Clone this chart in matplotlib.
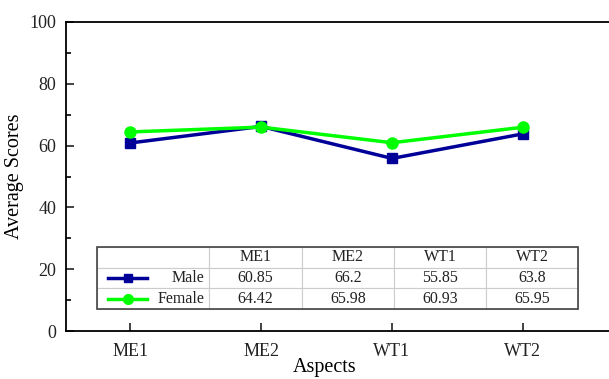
import numpy as np
import matplotlib.pyplot as plt
from matplotlib.patches import Rectangle
from matplotlib.lines import Line2D

plt.rcParams['font.family'] = ['Liberation Serif', 'DejaVu Serif']

aspects = ['ME1', 'ME2', 'WT1', 'WT2']
male = [60.85, 66.2, 55.85, 63.8]
female = [64.42, 65.98, 60.93, 65.95]
male_txt = ['60.85', '66.2', '55.85', '63.8']
female_txt = ['64.42', '65.98', '60.93', '65.95']

male_col = '#000099'
female_col = '#00ff00'

fig = plt.figure(figsize=(6.09, 3.79), dpi=100)
W, H = 609, 379
ax = fig.add_axes([66 / W, (H - 331) / H, 546 / W, 309 / H])

x = np.arange(len(aspects))
ax.plot(x, male, color=male_col, lw=2.5, marker='s', ms=7, zorder=3)
ax.plot(x, female, color=female_col, lw=2.5, marker='o', ms=8, zorder=4)

ax.set_xlim(-0.49, 3.68)
ax.set_ylim(0, 100)
ax.set_xticks(x)
ax.set_xticklabels(aspects)
ax.set_yticks([0, 20, 40, 60, 80, 100])
ax.set_yticks(np.arange(10, 100, 20), minor=True)
ax.tick_params(direction='in', length=6, width=1.2, labelsize=13, colors='#222222')
ax.tick_params(which='minor', direction='in', length=3.5, width=1.2)
ax.tick_params(axis='x', pad=9)
ax.tick_params(axis='y', pad=7)
for s in ax.spines.values():
    s.set_linewidth(1.3)
ax.set_xlabel('Aspects', fontsize=14.5)
ax.xaxis.set_label_coords((325 - 66) / 546, -0.088)
ax.set_ylabel('Average Scores', fontsize=14.5, labelpad=4)

# data table in the lower part of the plot
tx0, tw = (97 - 66) / 546, (578 - 97) / 546
ty0, th = (331 - 309) / 309, (309 - 247) / 309
cw = np.array([112, 93, 92, 92, 92], dtype=float)
cw = cw / cw.sum()

cells = [[''] + aspects,
         ['Male'] + male_txt,
         ['Female'] + female_txt]
tab = ax.table(cellText=cells, cellLoc='center', colWidths=list(cw * tw),
               bbox=[tx0, ty0, tw, th], zorder=5)
tab.auto_set_font_size(False)
for (r, c), cell in tab.get_celld().items():
    cell.set_edgecolor('#cccccc')
    cell.set_linewidth(0.8)
    cell.set_facecolor('white')
    cell.get_text().set_fontsize(11.5)
    cell.get_text().set_color('#222222')
    if c == 0:
        cell.get_text().set_ha('right')
        cell._loc = 'right'
        cell.PAD = 0.04
ax.add_patch(Rectangle((tx0, ty0), tw, th, transform=ax.transAxes, fill=False,
                       edgecolor='#444444', lw=1.2, zorder=7))

# legend samples in first column
rh = th / 3
for i, (col, mk, ms) in enumerate([(male_col, 's', 6), (female_col, 'o', 7)]):
    yc = ty0 + th - rh * (i + 1.5)
    lx0 = (108 - 66) / 546
    lx1 = (147 - 66) / 546
    ax.add_line(Line2D([lx0, lx1], [yc, yc], transform=ax.transAxes, color=col,
                       lw=2.5, zorder=8))
    ax.add_line(Line2D([(lx0 + lx1) / 2], [yc], transform=ax.transAxes, color=col,
                       marker=mk, ms=ms, zorder=8))

fig.savefig('out.png', dpi=100)
